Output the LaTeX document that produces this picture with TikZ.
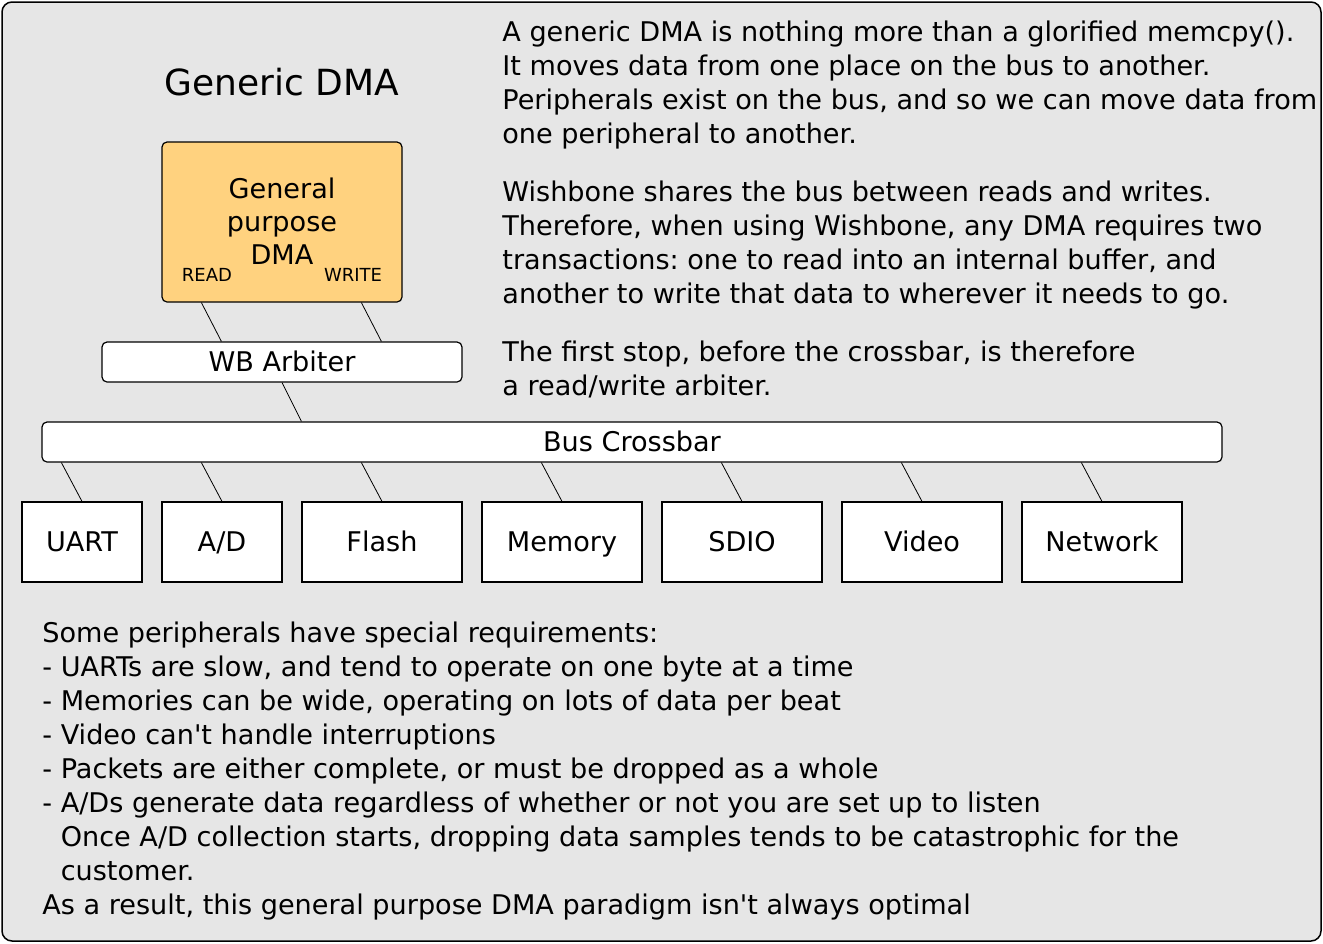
\documentclass[tikz,border=0pt]{standalone}
\usepackage{fontspec}
\setmainfont{DejaVu Sans}[Ligatures=TeXOff]
\usetikzlibrary{positioning}
\definecolor{panelgray}{RGB}{230,230,230}
\definecolor{dmaorange}{RGB}{255,210,127}
\frenchspacing

\begin{document}
\begin{tikzpicture}[x=0.5pt, y=-0.5pt,
    every node/.style={font=\fontsize{13.55}{17}\selectfont, inner sep=0pt},
    busbox/.style={draw, fill=white, rounded corners=2.5pt, line width=0.6pt,
      text height=12pt, text depth=2.1pt},
    periph/.style={draw, fill=white, line width=0.6pt, minimum height=40pt,
      text height=12pt, text depth=2.1pt},
    tag/.style={font=\fontsize{9}{10}\selectfont},
    notes/.style={anchor=north west, align=left},
    link/.style={line width=0.4pt}]
  \useasboundingbox (0,0) rectangle (1323,943);
  \draw[fill=panelgray, rounded corners=5pt, line width=0.75pt] (2,2) rectangle (1321,941);

  % DMA engine and arbiter
  \node[font=\fontsize{18}{21}\selectfont] (title) at (282,82) {Generic DMA};
  \node[busbox, fill=dmaorange, minimum width=120pt, minimum height=80pt] (dma) at (282,222) {};
  \node[align=center, font=\fontsize{13.55}{16.5}\selectfont] (dmatext) at (282,221) {General\\purpose\\DMA};
  \node[tag] (rd) at (207,275) {READ};
  \node[tag] (wr) at (353,275) {WRITE};
  \node[busbox, minimum width=180pt, minimum height=20pt] (arb) at (282,362) {WB Arbiter};
  \node[busbox, minimum width=590pt, minimum height=20pt] (bus) at (632,442) {Bus Crossbar};
  \draw[link] ([xshift=20pt]dma.south west) -- ([xshift=60pt]arb.north west);
  \draw[link] ([xshift=100pt]dma.south west) -- ([xshift=140pt]arb.north west);
  \draw[link] (arb.south) -- ([xshift=130pt]bus.north west);

  % peripherals on the crossbar
  \foreach \name/\lbl/\cx/\w in {uart/UART/82/60, ad/{A/D}/222/60, flash/Flash/382/80,
      mem/Memory/562/80, sdio/SDIO/742/80, video/Video/922/80, net/Network/1102/80}{
    \pgfmathsetmacro{\bx}{(\cx-62)*0.5}
    \node[periph, minimum width=\w pt] (\name) at (\cx,542) {\lbl};
    \draw[link] ([xshift=\bx pt]bus.south west) -- (\name.north);
  }

  % notes
  \node[notes] (intro) at (502,21) {A generic DMA is nothing more than a glorified memcpy().\\
    It moves data from one place on the bus to another.\\
    Peripherals exist on the bus, and so we can move data from\\
    one peripheral to another.};
  \node[notes] (wbnote) at (502,181) {Wishbone shares the bus between reads and writes.\\
    Therefore, when using Wishbone, any DMA requires two\\
    transactions: one to read into an internal buffer, and\\
    another to write that data to wherever it needs to go.};
  \node[notes] (arbnote) at (502,341) {The first stop, before the crossbar, is therefore\\
    a read/write arbiter.};
  \node[notes] (reqs) at (42,621) {Some peripherals have special requirements:\\
    - UARTs are slow, and tend to operate on one byte at a time\\
    - Memories can be wide, operating on lots of data per beat\\
    - Video can't handle interruptions\\
    - Packets are either complete, or must be dropped as a whole\\
    - A/Ds generate data regardless of whether or not you are set up to listen\\
    \hphantom{-\ }Once A/D collection starts, dropping data samples tends to be catastrophic for the\\
    \hphantom{-\ }customer.\\
    As a result, this general purpose DMA paradigm isn't always optimal};
\end{tikzpicture}
\end{document}
